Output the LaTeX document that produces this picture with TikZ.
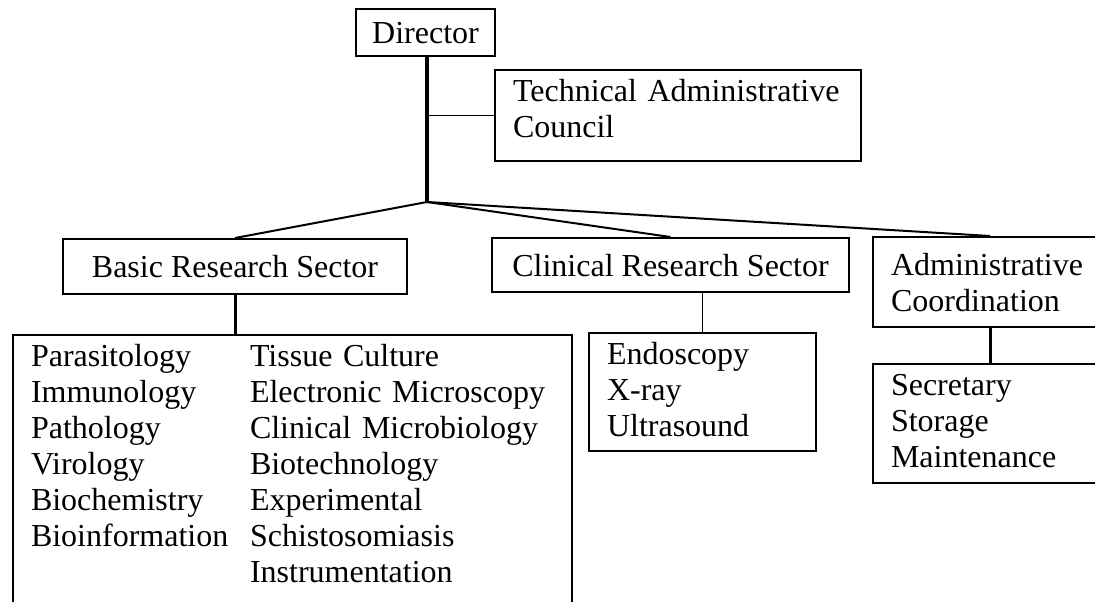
\documentclass[tikz,border=0pt]{standalone}
\usepackage{fontspec}
\setmainfont{Liberation Serif}
\usetikzlibrary{calc}

\tikzset{
  chart/.style={font=\fontsize{32}{36}\selectfont, text=black},
  % single-line box with centred label
  cbox/.style={draw, line width=2pt, rectangle, anchor=north west, inner sep=0pt,
               text height=22pt, text depth=0pt, align=center},
  % box with a left-aligned list of lines, first baseline 31pt below the top edge
  lbox/.style={draw, line width=2pt, rectangle, anchor=north west, align=left,
               inner xsep=18pt, inner ysep=9pt, text height=22pt},
  trunk/.style={line width=3.5pt},
  stem/.style={line width=3pt},
  branch/.style={line width=2pt},
  thinline/.style={line width=1.5pt},
}

\begin{document}
\hyphenpenalty=10000
\exhyphenpenalty=10000
\begin{tikzpicture}[x=1pt, y=-1pt, chart]
\useasboundingbox (0,0) rectangle (1095,602);
\fill[white] (0,0) rectangle (1095,602);
\clip (0,0) rectangle (1095,602);

% top of the organisation
\node[cbox, minimum width=139pt, minimum height=47pt] (dir) at (355,8) {Director};
\node[lbox, text width=330pt, text depth=51pt] (tac) at (494,69)
  {Technical~Administrative\\Council};

% sectors
\node[cbox, minimum width=344pt, minimum height=55pt] (basic) at (62,238) {Basic Research Sector};
\node[cbox, minimum width=357pt, minimum height=54pt] (clin) at (491,237) {Clinical Research Sector};
\node[lbox, inner ysep=16pt, text width=198pt, text depth=36pt] (admin) at (872,236)
  {Administrative\\Coordination};

% units of each sector
\node[lbox, text width=523pt, text depth=230pt] (big) at (12,334)
  {\begin{tabular}[t]{@{}p{219pt}@{}l@{}}
   Parasitology   & Tissue Culture\\
   Immunology     & Electronic Microscopy\\
   Pathology      & Clinical Microbiology\\
   Virology       & Biotechnology\\
   Biochemistry   & Experimental\\
   Bioinformation & Schistosomiasis\\
                  & Instrumentation
   \end{tabular}};
\node[lbox, text width=191pt, text depth=78pt] (endo) at (588,332)
  {Endoscopy\\X-ray\\Ultrasound};
\node[lbox, text width=198pt, text depth=79pt] (sec) at (872,363)
  {Secretary\\Storage\\Maintenance};

% connectors
\coordinate (hub) at (427,202);
\draw[trunk] (dir.south -| hub) -- (hub);
\draw[thinline] (hub |- tac.west) -- (tac.west);
\draw[branch] (hub) -- (basic.north);
\draw[branch] (hub) -- (clin.north);
\draw[branch] (hub) -- (admin.north);
\draw[stem] (basic.south) -- (basic.south |- big.north);
\draw[thinline] (endo.north |- clin.south) -- (endo.north);
\draw[stem] (admin.south) -- (admin.south |- sec.north);
\end{tikzpicture}
\end{document}
